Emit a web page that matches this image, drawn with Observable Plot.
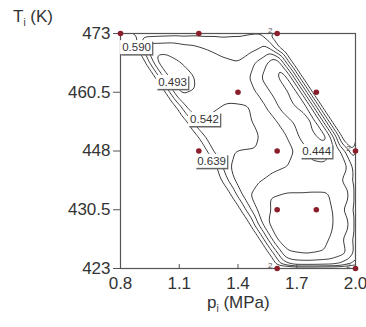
<!DOCTYPE html>
<html><head><meta charset="utf-8">
<script src="https://cdn.jsdelivr.net/npm/d3@7"></script>
<script src="https://cdn.jsdelivr.net/npm/@observablehq/plot@0.6"></script>
<style>
body{margin:0;background:#fff;}
#chart{position:relative;width:366px;height:327px;}
#chart svg{font-family:"Liberation Sans",Arial,sans-serif;overflow:visible;}
</style></head><body><div id="chart"></div>
<script>
// staggered sampling grid of the response surface
const pEven = [0.8, 0.9, 1.0, 1.1, 1.2, 1.3, 1.4, 1.5, 1.6, 1.7, 1.8, 1.9, 2.0];
const pOdd = [0.8, 0.85, 0.95, 1.05, 1.15, 1.25, 1.35, 1.45, 1.55, 1.65, 1.75, 1.85, 1.95, 2.0];
const tGrid = [473, 469.875, 466.75, 463.625, 460.5, 457.375, 454.25, 451.125, 448, 444.875, 441.75, 438.625, 435.5, 432.375, 429.25, 426.125, 423];
const zRows = [
  [0.70, 0.615, 0.61, 0.605, 0.60, 0.60, 0.595, 0.575, 0.70, 0.9, 0.9, 0.9, 0.9],
  [0.80, 0.70, 0.51, 0.505, 0.525, 0.545, 0.56, 0.565, 0.53, 0.70, 0.9, 0.9, 0.9, 0.9],
  [0.9, 0.70, 0.475, 0.49, 0.515, 0.53, 0.54, 0.485, 0.40, 0.70, 0.9, 0.9, 0.9],
  [0.9, 0.9, 0.70, 0.48, 0.485, 0.515, 0.525, 0.50, 0.42, 0.375, 0.70, 0.9, 0.9, 0.9],
  [0.9, 0.9, 0.70, 0.488, 0.497, 0.515, 0.52, 0.49, 0.42, 0.375, 0.70, 0.9, 0.9],
  [0.9, 0.9, 0.9, 0.70, 0.52, 0.53, 0.55, 0.545, 0.49, 0.41, 0.375, 0.70, 0.9, 0.9],
  [0.9, 0.9, 0.9, 0.70, 0.545, 0.56, 0.57, 0.53, 0.495, 0.43, 0.38, 0.70, 0.9],
  [0.9, 0.9, 0.9, 0.9, 0.70, 0.565, 0.575, 0.57, 0.52, 0.495, 0.41, 0.38, 0.70, 0.80],
  [0.9, 0.9, 0.9, 0.9, 0.70, 0.555, 0.54, 0.535, 0.51, 0.49, 0.42, 0.45, 0.65],
  [0.9, 0.9, 0.9, 0.9, 0.9, 0.70, 0.545, 0.525, 0.515, 0.495, 0.46, 0.45, 0.48, 0.58],
  [0.9, 0.9, 0.9, 0.9, 0.9, 0.66, 0.52, 0.50, 0.47, 0.465, 0.46, 0.465, 0.56],
  [0.9, 0.9, 0.9, 0.9, 0.9, 0.9, 0.66, 0.50, 0.45, 0.44, 0.44, 0.44, 0.47, 0.56],
  [0.9, 0.9, 0.9, 0.9, 0.9, 0.9, 0.66, 0.485, 0.425, 0.42, 0.42, 0.45, 0.56],
  [0.9, 0.9, 0.9, 0.9, 0.9, 0.9, 0.9, 0.66, 0.445, 0.42, 0.415, 0.43, 0.47, 0.56],
  [0.9, 0.9, 0.9, 0.9, 0.9, 0.9, 0.9, 0.66, 0.435, 0.42, 0.425, 0.455, 0.56],
  [0.9, 0.9, 0.9, 0.9, 0.9, 0.9, 0.9, 0.9, 0.66, 0.45, 0.44, 0.45, 0.49, 0.56],
  [0.9, 0.9, 0.9, 0.9, 0.9, 0.9, 0.9, 0.9, 0.66, 0.56, 0.56, 0.57, 0.65]
];
const levels = [0.395, 0.444, 0.493, 0.542, 0.590, 0.639];

// design points
const ptP = [0.8, 1.2, 1.6, 1.4, 1.8, 1.2, 1.6, 2.0, 1.6, 1.8, 1.6, 2.0];
const ptT = [473, 473, 473, 460.5, 460.5, 448, 448, 448, 435.5, 435.5, 423, 423];

// contour labels
const labText = ["0.590", "0.493", "0.542", "0.639", "0.444"];
const labP = [0.882, 1.066, 1.229, 1.265, 1.802];
const labT = [470.0, 462.6, 454.7, 445.8, 447.9];

// small corner labels
const cornerP = [1.6, 2.0, 1.6, 2.0];
const cornerT = [473, 448, 423, 423];

// axes
const xTicks = [0.8, 1.1, 1.4, 1.7, 2.0];
const xTickLabels = ["0.8", "1.1", "1.4", "1.7", "2.0"];
const yTicks = [423, 435.5, 448, 460.5, 473];
const yTickLabels = ["423", "430.5", "448", "460.5", "473"];

const field = [];
tGrid.forEach((t, r) => {
  const ps = r % 2 === 0 ? pEven : pOdd;
  ps.forEach((p, c) => field.push({p, t, z: zRows[r][c]}));
});
const points = ptP.map((p, i) => ({p, t: ptT[i]}));
const labels = labText.map((s, i) => ({s, p: labP[i], t: labT[i]}));
const corners = cornerP.map((p, i) => ({p, t: cornerT[i]}));

const chart = Plot.plot({
  width: 366, height: 327,
  marginLeft: 120, marginRight: 11, marginTop: 33, marginBottom: 59,
  x: {domain: [0.8, 2.0]},
  y: {domain: [423, 473]},
  style: {fontFamily: "'Liberation Sans', Arial, sans-serif", color: "#333", background: "#fff"},
  marks: [
    Plot.contour(field, {
      x: "p", y: "t", value: "z", thresholds: levels,
      interpolate: "barycentric", blur: 2, pixelSize: 1,
      x1: 0.77, x2: 2.03, y1: 421.5, y2: 474.5,
      stroke: "#3a3a3a", strokeWidth: 1, fill: "none", clip: true
    }),
    Plot.frame({stroke: "#555", strokeWidth: 1.2}),
    Plot.axisY({ticks: yTicks, tickFormat: d => yTickLabels[yTicks.indexOf(d)], tickSize: 7, tickPadding: 3, fontSize: 17, label: null, stroke: "#555"}),
    Plot.axisX({ticks: xTicks, tickFormat: d => xTickLabels[xTicks.indexOf(d)], tickSize: 0, tickPadding: 8, fontSize: 17, label: null}),
    Plot.ruleX(xTicks, {insetTop: 231, stroke: "#555"}),
    Plot.rect(labels, {x1: "p", x2: "p", y1: "t", y2: "t", insetLeft: -16, insetRight: -16, insetTop: -7, insetBottom: -7, fill: "#666", dx: 1.3, dy: 1.5}),
    Plot.rect(labels, {x1: "p", x2: "p", y1: "t", y2: "t", insetLeft: -16, insetRight: -16, insetTop: -7, insetBottom: -7, fill: "#fff"}),
    Plot.text(labels, {x: "p", y: "t", text: "s", fontSize: 11.5, fill: "#333"}),
    Plot.text(corners, {x: "p", y: "t", text: () => "2", dx: -7, dy: -3, fontSize: 8, fill: "#555"}),
    Plot.dot(points, {x: "p", y: "t", r: 2.8, fill: "#8b1e2b", stroke: "none"})
  ]
});
document.getElementById("chart").appendChild(chart);

const svg = d3.select(chart);
const yt = svg.append("text").attr("x", 13).attr("y", 22).attr("font-size", 17).attr("fill", "#333").attr("text-anchor", "start");
yt.append("tspan").text("T");
yt.append("tspan").attr("font-size", 10).attr("dy", 4).text("i");
yt.append("tspan").attr("dy", -4).text(" (K)");
const xt = svg.append("text").attr("x", 207).attr("y", 308).attr("font-size", 17).attr("fill", "#333").attr("text-anchor", "start");
xt.append("tspan").text("p");
xt.append("tspan").attr("font-size", 10).attr("dy", 4).text("i");
xt.append("tspan").attr("dy", -4).text(" (MPa)");
</script></body></html>
